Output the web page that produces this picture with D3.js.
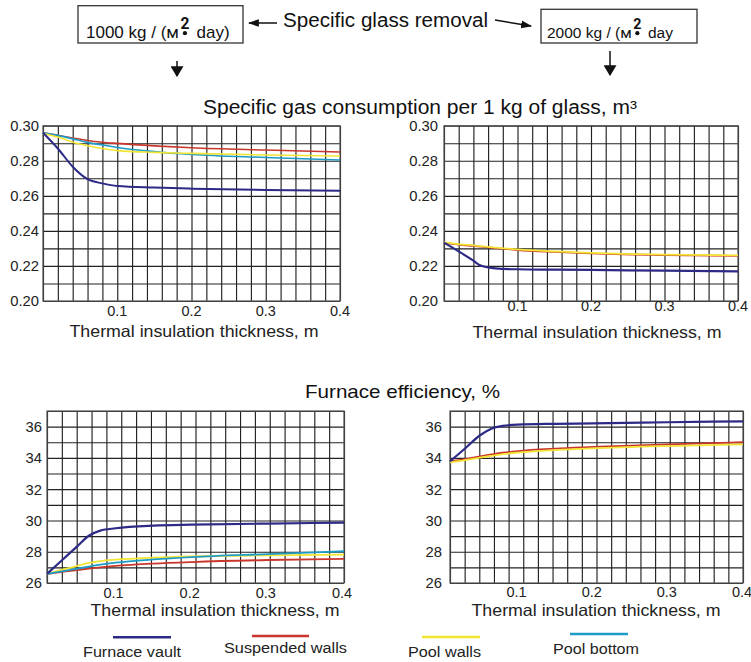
<!DOCTYPE html>
<html><head><meta charset="utf-8">
<script src="https://cdn.jsdelivr.net/npm/d3@7"></script>
<style>
html,body{margin:0;padding:0;background:#fff;}
svg{display:block;}
svg text{font-family:"Liberation Sans",Arial,Helvetica,sans-serif;}
</style></head>
<body>
<svg id="c" width="751" height="662"></svg>
<script>
// ---------- data ----------
const seriesNames = ["Furnace vault", "Suspended walls", "Pool walls", "Pool bottom"];
const seriesColors = ["#2c2a86", "#c9372c", "#f3e533", "#1f9cc6"];

// Specific gas consumption, 1000 kg/(m2 day)
const gasX1000 = [0, 0.02, 0.04, 0.06, 0.08, 0.1, 0.15, 0.2, 0.3, 0.4];
const gasVault1000 = [0.296, 0.287, 0.2766, 0.2695, 0.2671, 0.2656, 0.2647, 0.2641, 0.2633, 0.2629];
const gasSusp1000  = [0.296, 0.2945, 0.2930, 0.2916, 0.2906, 0.2899, 0.2885, 0.2874, 0.2861, 0.2850];
const gasPoolW1000 = [0.2956, 0.2935, 0.2906, 0.2886, 0.2870, 0.2858, 0.2848, 0.2842, 0.2833, 0.2827];
const gasPoolB1000 = [0.296, 0.2945, 0.2925, 0.2905, 0.2890, 0.2876, 0.2852, 0.2836, 0.2819, 0.2804];

// Specific gas consumption, 2000 kg/(m2 day)
const gasX2000 = [0, 0.02, 0.04, 0.05, 0.07, 0.1, 0.15, 0.2, 0.3, 0.4];
const gasVault2000 = [0.2333, 0.2283, 0.2230, 0.2202, 0.2186, 0.2181, 0.2179, 0.2177, 0.2173, 0.2169];
const gasSusp2000  = [0.2333, 0.2322, 0.2314, 0.2310, 0.2302, 0.2291, 0.2280, 0.2272, 0.2262, 0.2257];
const gasPoolW2000 = [0.2335, 0.2325, 0.2317, 0.2313, 0.2305, 0.2294, 0.2283, 0.2275, 0.2265, 0.2260];

// Furnace efficiency, 1000 kg/(m2 day)
const effX1000 = [0.01, 0.03, 0.05, 0.065, 0.08, 0.1, 0.15, 0.2, 0.3, 0.4];
const effVault1000 = [26.58, 27.47, 28.36, 29.02, 29.35, 29.5, 29.67, 29.73, 29.8, 29.86];
const effSusp1000  = [26.58, 26.72, 26.83, 26.92, 27.0, 27.09, 27.24, 27.34, 27.47, 27.54];
const effPoolW1000 = [26.58, 26.85, 27.1, 27.28, 27.4, 27.49, 27.62, 27.7, 27.77, 27.81];
const effPoolB1000 = [26.58, 26.75, 26.92, 27.05, 27.17, 27.3, 27.51, 27.66, 27.85, 28.03];

// Furnace efficiency, 2000 kg/(m2 day)
const effX2000 = [0.01, 0.03, 0.05, 0.065, 0.08, 0.1, 0.15, 0.2, 0.3, 0.4];
const effVault2000 = [33.78, 34.6, 35.45, 35.87, 36.05, 36.13, 36.18, 36.21, 36.28, 36.34];
const effSusp2000  = [33.78, 33.92, 34.1, 34.22, 34.33, 34.44, 34.6, 34.7, 34.87, 35.0];
const effPoolW2000 = [33.72, 33.86, 34.02, 34.13, 34.24, 34.34, 34.5, 34.61, 34.76, 34.87];

const xTickValues = [0.1, 0.2, 0.3, 0.4];
const gasYTicks = [0.20, 0.22, 0.24, 0.26, 0.28, 0.30];
const effYTicks = [26, 28, 30, 32, 34, 36];

const topTitle = "Specific glass removal";
const box1Head = "1000 kg / (";
const box2Head = "2000 kg / (";
const unitLetter = "м";
const box1Tail = "day)";
const box2Tail = "day";
const gasTitle = "Specific gas consumption per 1 kg of glass, m³";
const effTitle = "Furnace efficiency, %";
const xTitle = "Thermal insulation thickness, m";

// ---------- drawing ----------
const svg = d3.select("#c");

const panels = [
  {L:43, R:340, T:125.7, B:301, xd:[0,0.4], yd:[0.20,0.30], ystep:0.01, yt:gasYTicks, yf:d3.format(".2f"), ylx:-4, xlb:316, xshift:0, titleX:194, titleY:337,
   xs:gasX1000, ys:[gasVault1000, gasSusp1000, gasPoolW1000, gasPoolB1000], order:[1,3,2,0], lw:1.6},
  {L:444, R:738, T:125.7, B:301, xd:[0,0.4], yd:[0.20,0.30], ystep:0.01, yt:gasYTicks, yf:d3.format(".2f"), ylx:-6, xlb:311, xshift:0, titleX:597, titleY:338,
   xs:gasX2000, ys:[gasVault2000, gasSusp2000, gasPoolW2000], order:[1,2,0], lw:1.8},
  {L:47, R:344, T:411, B:583, xd:[0.01,0.4], yd:[26,37], ystep:1, yt:effYTicks, yf:d3.format("d"), ylx:-5, xlb:597.5, xshift:-2, titleX:215, titleY:615.5,
   xs:effX1000, ys:[effVault1000, effSusp1000, effPoolW1000, effPoolB1000], order:[1,2,3,0], lw:1.8},
  {L:450, R:743, T:411, B:583, xd:[0.01,0.4], yd:[26,37], ystep:1, yt:effYTicks, yf:d3.format("d"), ylx:-8, xlb:596.5, xshift:-1, titleX:596, titleY:615.5,
   xs:effX2000, ys:[effVault2000, effSusp2000, effPoolW2000], order:[1,2,0], lw:1.8}
];

panels.forEach(p => {
  const x = d3.scaleLinear().domain(p.xd).range([p.L, p.R]);
  const y = d3.scaleLinear().domain(p.yd).range([p.B, p.T]);
  const g = svg.append("g");
  // grid
  const gx = d3.range(21).map(i => p.xd[0] + i*(p.xd[1]-p.xd[0])/20);
  const ny = Math.round((p.yd[1]-p.yd[0])/p.ystep);
  const gy = d3.range(ny+1).map(i => p.yd[0] + i*p.ystep);
  g.append("g").attr("transform", `translate(0,${p.B})`)
    .call(d3.axisBottom(x).tickValues(gx).tickSize(-(p.B-p.T)).tickFormat(""))
    .call(a => a.select(".domain").remove())
    .call(a => a.selectAll("line").attr("stroke", "#222").attr("stroke-width", 1.15));
  g.append("g").attr("transform", `translate(${p.L},0)`)
    .call(d3.axisLeft(y).tickValues(gy).tickSize(-(p.R-p.L)).tickFormat(""))
    .call(a => a.select(".domain").remove())
    .call(a => a.selectAll("line").attr("stroke", "#222").attr("stroke-width", 1.15));
  g.append("rect").attr("x", p.L).attr("y", p.T).attr("width", p.R-p.L).attr("height", p.B-p.T)
    .attr("fill", "none").attr("stroke", "#555").attr("stroke-width", 1.2);
  // y labels
  g.selectAll(".yl").data(p.yt).join("text")
    .attr("x", p.L + p.ylx).attr("y", d => y(d)).attr("dy", "0.36em")
    .attr("text-anchor", "end").attr("font-size", 14.8).attr("fill", "#222")
    .text(p.yf);
  // x labels
  g.selectAll(".xl").data(xTickValues).join("text")
    .attr("x", d => x(d) + p.xshift).attr("y", p.xlb)
    .attr("text-anchor", "middle").attr("font-size", 14.5).attr("fill", "#222")
    .text(d3.format(".1f"));
  // axis title
  g.append("text").attr("x", p.titleX).attr("y", p.titleY).attr("text-anchor", "middle")
    .attr("font-size", 16.5).attr("fill", "#222")
    .attr("textLength", 249).attr("lengthAdjust", "spacingAndGlyphs").text(xTitle);
  // lines
  const line = d3.line().curve(d3.curveMonotoneX);
  p.order.forEach(si => {
    const pts = p.xs.map((xv, i) => [x(xv), y(p.ys[si][i])]);
    g.append("path").attr("d", line(pts)).attr("fill", "none")
      .attr("stroke", seriesColors[si]).attr("stroke-width", si === 0 ? p.lw + 0.4 : p.lw)
      .attr("stroke-linejoin", "round");
  });
});

// section titles
svg.append("text").attr("x", 420).attr("y", 113.5).attr("text-anchor", "middle")
  .attr("font-size", 19.5).attr("fill", "#111")
  .attr("textLength", 434).attr("lengthAdjust", "spacingAndGlyphs").text(gasTitle);
svg.append("text").attr("x", 402.5).attr("y", 398).attr("text-anchor", "middle")
  .attr("font-size", 18.5).attr("fill", "#111")
  .attr("textLength", 195).attr("lengthAdjust", "spacingAndGlyphs").text(effTitle);

// top header
svg.append("text").attr("x", 385.5).attr("y", 27).attr("text-anchor", "middle")
  .attr("font-size", 20).attr("fill", "#111")
  .attr("textLength", 205).attr("lengthAdjust", "spacingAndGlyphs").text(topTitle);

function box(x0, y0, x1, y1, tx, head, tail, fs) {
  svg.append("rect").attr("x", x0).attr("y", y0).attr("width", x1-x0).attr("height", y1-y0)
    .attr("fill", "#fff").attr("stroke", "#333").attr("stroke-width", 1.3);
  const a = svg.append("text").attr("x", tx).attr("y", 37.7).attr("font-size", fs).attr("fill", "#111")
    .text(head);
  const w = a.node().getComputedTextLength();
  const t = svg.append("text").attr("x", tx + w).attr("y", 37.7).attr("font-size", fs)
    .style("font-family", "Roboto, 'Noto Sans', sans-serif").attr("fill", "#111");
  t.append("tspan").text(unitLetter);
  t.append("tspan").attr("dy", -9).attr("dx", 1.5)
    .attr("font-weight", "bold").attr("font-size", fs*0.92).text("2");
  t.append("tspan").attr("dy", 9).attr("dx", fs*0.42)
    .style("font-family", "'Liberation Sans', Arial, sans-serif").text(tail);
  const ext = t.node().getExtentOfChar(unitLetter.length);
  svg.append("circle").attr("cx", ext.x + ext.width/2).attr("cy", 33.2).attr("r", 2.1).attr("fill", "#111");
}
box(78, 5.7, 243, 43, 86, box1Head, box1Tail, 17);
box(541, 9.3, 697, 43, 547, box2Head, box2Tail, 15.5);

// arrows
const defs = svg.append("defs");
defs.append("marker").attr("id", "ah").attr("viewBox", "0 0 10 10").attr("refX", 9).attr("refY", 5)
  .attr("markerWidth", 11).attr("markerHeight", 11).attr("markerUnits", "userSpaceOnUse").attr("orient", "auto")
  .append("path").attr("d", "M0,1.5 L10,5 L0,8.5 Z").attr("fill", "#111");
defs.append("marker").attr("id", "ah2").attr("viewBox", "0 0 10 12").attr("refX", 9).attr("refY", 6)
  .attr("markerWidth", 11).attr("markerHeight", 13).attr("markerUnits", "userSpaceOnUse").attr("orient", "auto")
  .append("path").attr("d", "M0,0 L10,6 L0,12 Z").attr("fill", "#111");
const arrows = [
  [[277, 23], [249, 23], "ah"],
  [[495, 20], [531, 26], "ah"],
  [[177, 61], [177, 76], "ah2"],
  [[610, 51], [610, 75], "ah2"]
];
arrows.forEach(a => {
  svg.append("path").attr("d", d3.line()([a[0], a[1]])).attr("stroke", "#111")
    .attr("stroke-width", 1.5).attr("fill", "none").attr("marker-end", `url(#${a[2]})`);
});

// legend
const legendLines = [[113, 171, 637.3], [252, 309, 636], [422, 480, 637], [570, 628, 634]];
const legendText = [[83, 656.7, 98], [224, 653, 123], [408, 657, 73], [553, 654, 86]];
seriesNames.forEach((n, i) => {
  const l = legendLines[i], t = legendText[i];
  svg.append("line").attr("x1", l[0]).attr("x2", l[1]).attr("y1", l[2]).attr("y2", l[2])
    .attr("stroke", seriesColors[i]).attr("stroke-width", 2.6);
  svg.append("text").attr("x", t[0]).attr("y", t[1]).attr("font-size", 15.5).attr("fill", "#222")
    .attr("textLength", t[2]).attr("lengthAdjust", "spacingAndGlyphs").text(n);
});
</script>
</body></html>
